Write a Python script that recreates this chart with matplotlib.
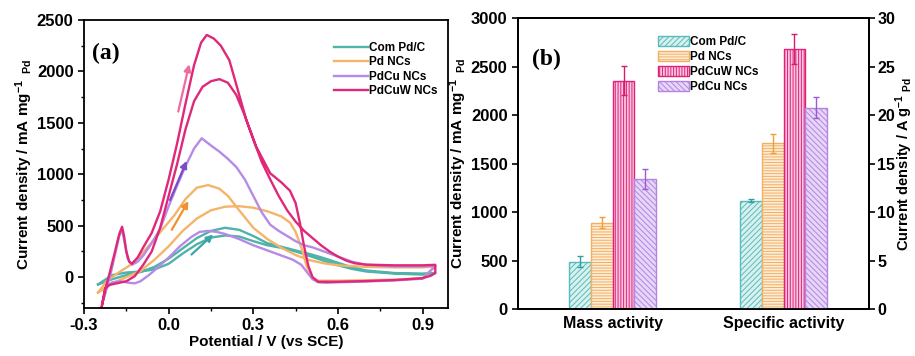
import numpy as np
import matplotlib
matplotlib.use('Agg')
import matplotlib.pyplot as plt
from matplotlib.ticker import MultipleLocator

plt.rcParams['font.family'] = 'Liberation Sans'
plt.rcParams['font.weight'] = 'bold'
plt.rcParams['mathtext.fontset'] = 'custom'
plt.rcParams['mathtext.rm'] = 'Liberation Sans:bold'
plt.rcParams['mathtext.it'] = 'Liberation Sans:bold'
plt.rcParams['mathtext.bf'] = 'Liberation Sans:bold'
plt.rcParams['hatch.linewidth'] = 0.7

# ---- panel (a): CV curves, two branches each ----
comc_x = [-0.25, -0.2, -0.15, -0.1, -0.05, 0.0, 0.05, 0.1, 0.15, 0.2, 0.25, 0.3,
          0.35, 0.4, 0.45, 0.5, 0.55, 0.6, 0.65, 0.7, 0.8, 0.9, 0.945]
comc_a = [-70, -20, 20, 50, 100, 180, 280, 380, 450, 480, 460, 400,
          330, 295, 260, 225, 185, 140, 95, 65, 40, 35, 40]
comc_b = [-70, 20, 45, 55, 75, 130, 230, 320, 385, 405, 395, 350,
          310, 285, 250, 205, 160, 115, 80, 55, 35, 25, 40]

pd_a_x = [-0.25, -0.22, -0.18, -0.14, -0.1, -0.06, -0.02, 0.02, 0.06, 0.1, 0.14, 0.18,
          0.21, 0.25, 0.3, 0.35, 0.4, 0.45, 0.5, 0.55, 0.6, 0.7, 0.8, 0.9, 0.945]
pd_a_y = [-150, -40, 40, 110, 210, 340, 470, 600, 760, 870, 895, 860,
          790, 650, 480, 370, 285, 215, 165, 135, 115, 100, 95, 95, 105]
pd_b_x = [-0.25, -0.2, -0.15, -0.1, -0.05, 0.0, 0.05, 0.1, 0.15, 0.2, 0.25, 0.3,
          0.35, 0.4, 0.43, 0.45, 0.47, 0.49, 0.51, 0.53, 0.6, 0.7, 0.8, 0.9, 0.945]
pd_b_y = [-150, -60, 0, 60, 170, 300, 450, 570, 650, 685, 690, 675,
          640, 590, 530, 440, 290, 100, -10, -35, -35, -30, -25, -10, 105]

pdcu_a_x = [-0.235, -0.21, -0.19, -0.175, -0.165, -0.155, -0.145, -0.13, -0.11, -0.09,
            -0.06, -0.03, 0.0, 0.03, 0.06, 0.09, 0.117, 0.15, 0.18, 0.21, 0.24, 0.27,
            0.3, 0.33, 0.36, 0.39, 0.42, 0.45, 0.48, 0.51, 0.55, 0.6, 0.65, 0.7, 0.8,
            0.9, 0.945]
pdcu_a_y = [-250, -20, 220, 400, 460, 320, 180, 120, 150, 210,
            330, 470, 690, 890, 1080, 1250, 1350, 1280, 1220, 1150, 1070, 950,
            790, 630, 510, 450, 400, 350, 310, 290, 250, 200, 150, 120, 105,
            105, 110]
pdcu_b_x = [-0.235, -0.22, -0.2, -0.17, -0.14, -0.12, -0.1, -0.07, -0.04, 0.0, 0.04,
            0.08, 0.11, 0.14, 0.17, 0.2, 0.25, 0.3, 0.35, 0.4, 0.44, 0.47, 0.49, 0.51,
            0.53, 0.56, 0.6, 0.7, 0.8, 0.9, 0.945]
pdcu_b_y = [-250, -100, -50, -40, -55, -60, -40, 20, 90, 190, 300,
            390, 440, 450, 440, 420, 370, 310, 260, 210, 170, 120, 50, -20,
            -50, -55, -50, -42, -32, -15, 110]

pdcuw_a_x = [-0.238, -0.225, -0.21, -0.19, -0.175, -0.165, -0.158, -0.15, -0.14, -0.13,
             -0.11, -0.09, -0.06, -0.03, 0.0, 0.03, 0.06, 0.09, 0.115, 0.135, 0.16,
             0.185, 0.215, 0.24, 0.275, 0.31, 0.36, 0.4, 0.43, 0.45, 0.465, 0.48,
             0.495, 0.51, 0.53, 0.6, 0.7, 0.8, 0.9, 0.93, 0.945]
pdcuw_a_y = [-300, -120, 30, 250, 420, 490, 400, 250, 150, 130,
             190, 290, 430, 640, 950, 1300, 1690, 2060, 2280, 2355, 2320,
             2250, 2110, 1870, 1530, 1270, 1010, 920, 840, 720, 530, 300,
             110, 0, -45, -45, -38, -28, -10, 15, 40]
pdcuw_b_x = [-0.238, -0.225, -0.21, -0.18, -0.15, -0.12, -0.09, -0.06, -0.03, 0.0, 0.03,
             0.06, 0.09, 0.12, 0.15, 0.18, 0.21, 0.24, 0.27, 0.3, 0.33, 0.36, 0.39,
             0.42, 0.45, 0.48, 0.51, 0.54, 0.57, 0.6, 0.63, 0.66, 0.7, 0.8, 0.9, 0.945]
pdcuw_b_y = [-300, -110, -75, -58, -40, 10, 120, 250, 480, 790, 1100,
             1440, 1710, 1850, 1905, 1925, 1890, 1770, 1570, 1340, 1120, 950, 790,
             650, 540, 450, 380, 310, 250, 200, 160, 135, 122, 115, 115, 120]

# arrows: (x0, y0, x1, y1)
arrow_pdcuw = (0.034, 1610, 0.073, 2070)
arrow_pdcu = (0.005, 750, 0.064, 1130)
arrow_pd = (0.011, 460, 0.07, 740)
arrow_comc = (0.081, 220, 0.158, 415)

# ---- panel (b): bars ----
groups = ['Mass activity', 'Specific activity']
samples = ['Com Pd/C', 'Pd NCs', 'PdCuW NCs', 'PdCu NCs']
mass = [490, 893, 2355, 1345]
mass_err = [55, 60, 150, 100]
specific = [11.2, 17.1, 26.8, 20.8]
specific_err = [0.15, 1.0, 1.55, 1.1]

c_teal = '#4fb3a9'
c_orange = '#f4b46a'
c_purple = '#b68ae6'
c_magenta = '#e0287a'

fig = plt.figure(figsize=(9.15, 3.56), dpi=100)

# ---------------- (a) ----------------
ax = fig.add_axes([0.0918, 0.1348, 0.3978, 0.809])

def loop(ax, xa, ya, xb, yb, color, label):
    x = list(xa) + list(xb)[::-1]
    y = list(ya) + list(yb)[::-1]
    ax.plot(x, y, color=color, lw=1.7, label=label, solid_joinstyle='round')

loop(ax, comc_x, comc_a, comc_x, comc_b, c_teal, 'Com Pd/C')
loop(ax, pd_a_x, pd_a_y, pd_b_x, pd_b_y, c_orange, 'Pd NCs')
loop(ax, pdcu_a_x, pdcu_a_y, pdcu_b_x, pdcu_b_y, c_purple, 'PdCu NCs')
loop(ax, pdcuw_a_x, pdcuw_a_y, pdcuw_b_x, pdcuw_b_y, c_magenta, 'PdCuW NCs')

for (x0, y0, x1, y1), col in [(arrow_pdcuw, '#f06aa0'), (arrow_pdcu, '#7a4cc8'),
                              (arrow_pd, '#f0922c'), (arrow_comc, '#3aa6a6')]:
    ax.annotate('', xy=(x1, y1), xytext=(x0, y0),
                arrowprops=dict(arrowstyle='-|>', color=col, lw=1.6,
                                mutation_scale=10, shrinkA=0, shrinkB=0))

ax.set_xlim(-0.3, 0.99)
ax.set_ylim(-300, 2500)
ax.set_xticks([-0.3, 0.0, 0.3, 0.6, 0.9])
ax.set_xticklabels(['-0.3', '0.0', '0.3', '0.6', '0.9'])
ax.xaxis.set_minor_locator(MultipleLocator(0.15))
ax.set_yticks([0, 500, 1000, 1500, 2000, 2500])
ax.yaxis.set_minor_locator(MultipleLocator(250))
ax.tick_params(which='major', direction='out', length=4, width=1.2, labelsize=12)
ax.tick_params(which='minor', direction='out', length=2.5, width=1.0)
for s in ax.spines.values():
    s.set_linewidth(1.3)
ax.set_xlabel('Potential / V (vs SCE)', fontsize=11, fontweight='bold', labelpad=1)
ax.set_ylabel(r'Current density / mA mg$^{-1}$$_{\ \ Pd}$', fontsize=11,
              fontweight='bold', labelpad=1)
ax.text(0.022, 0.885, '(a)', transform=ax.transAxes, fontsize=17, fontweight='bold',
        family='Liberation Serif', va='center')
ax.legend(loc='upper right', bbox_to_anchor=(0.985, 0.94), frameon=False, fontsize=8.5,
          handlelength=2.9, handletextpad=0.1, labelspacing=0.2, borderaxespad=0)

# ---------------- (b) ----------------
bx = fig.add_axes([0.5661, 0.1312, 0.3836, 0.8174])
bx2 = bx.twinx()

faces = ['#d9f1ee', '#fdecd6', '#f9c6df', '#e6d6f7']
edges = ['#58bcbc', '#f2b064', '#e0207a', '#b683e3']
ecolors = ['#2f9f9f', '#ef9f3a', '#d81b6a', '#9a5ad8']
hatches = ['//////', '------', '||||||', '\\\\\\\\\\\\']
width = 0.127
offsets = (np.arange(4) - 1.5) * width

for i in range(4):
    bx.bar(0 + offsets[i], mass[i], width, color=faces[i], edgecolor=edges[i],
           hatch=hatches[i], lw=1.0, label=samples[i])
    bx.errorbar(0 + offsets[i], mass[i], yerr=mass_err[i], color=ecolors[i],
                capsize=2.5, lw=1.0, capthick=1.0)
    bx2.bar(1 + offsets[i], specific[i], width, color=faces[i], edgecolor=edges[i],
            hatch=hatches[i], lw=1.0)
    bx2.errorbar(1 + offsets[i], specific[i], yerr=specific_err[i], color=ecolors[i],
                 capsize=2.5, lw=1.0, capthick=1.0)

bx.set_xlim(-0.555, 1.5)
bx.set_ylim(0, 3000)
bx2.set_ylim(0, 30)
bx.set_xticks([0, 1])
bx.set_xticklabels(groups)
bx.set_yticks([0, 500, 1000, 1500, 2000, 2500, 3000])
bx2.set_yticks([0, 5, 10, 15, 20, 25, 30])
bx.tick_params(axis='x', length=0, labelsize=11.5, pad=5)
bx.tick_params(axis='y', direction='out', length=4, width=1.2, labelsize=12)
bx2.tick_params(axis='y', direction='out', length=4, width=1.2, labelsize=11.5, pad=2)
for s in list(bx.spines.values()) + list(bx2.spines.values()):
    s.set_linewidth(1.3)
bx.set_ylabel(r'Current density / mA mg$^{-1}$$_{\ \ Pd}$', fontsize=11,
              fontweight='bold', labelpad=1)
bx2.set_ylabel(r'Current density / A g$^{-1}$$_{\ Pd}$', fontsize=10.5,
               fontweight='bold', rotation=90)
bx2.yaxis.set_label_coords(1.07, 0.5)
bx.text(0.04, 0.86, '(b)', transform=bx.transAxes, fontsize=17, fontweight='bold',
        family='Liberation Serif', va='center')
bx.legend(loc='upper left', bbox_to_anchor=(0.385, 0.955), frameon=False, fontsize=8.5,
          handlelength=2.6, handleheight=0.9, handletextpad=0.15, labelspacing=0.25,
          borderaxespad=0)

fig.savefig('out.png', dpi=100)
